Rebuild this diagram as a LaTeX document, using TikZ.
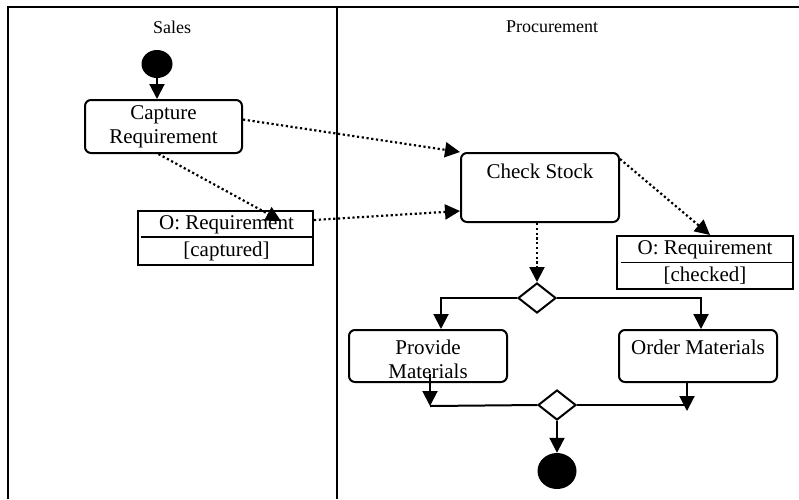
\documentclass[tikz,border=0pt]{standalone}
\usepackage{fontspec}
\setmainfont{Liberation Serif}
\usetikzlibrary{arrows.meta,shapes.geometric,calc}
\begin{document}
\begin{tikzpicture}[x=1pt,y=-1pt,
  every node/.style={font=\fontsize{21}{24}\selectfont},
  lane/.style={line width=2.2pt},
  act/.style={draw, line width=2pt, rounded corners=6pt, inner sep=0pt},
  obj/.style={draw, line width=2pt, inner sep=0pt},
  txt/.style={inner sep=0pt, align=center},
  lanetxt/.style={inner sep=0pt, font=\fontsize{18}{20}\selectfont},
  dia/.style={draw, diamond, line width=2pt, inner sep=0pt, minimum width=38pt, minimum height=30pt},
  blob/.style={ellipse, fill=black, inner sep=0pt},
  flow/.style={line width=2pt, -{Triangle[length=15pt,width=15pt]}},
  dflow/.style={line width=2.2pt, dash pattern=on 2.2pt off 2.6pt, -{Triangle[length=15pt,width=15pt]}},
  plain/.style={line width=2pt},
]
\useasboundingbox (0,0) rectangle (799,499);
\fill[white] (0,0) rectangle (799,499);
% swimlanes
\draw[lane] (8,499) -- (8,7) -- (799,7);
\draw[lane] (337,7) -- (337,499);
\node[lanetxt] (lsales) at (172,27) {Sales};
\node[lanetxt] (lproc) at (552,27) {Procurement};
% nodes
\node[blob, minimum width=31pt, minimum height=28pt] (start) at (157,64) {};
\node[act, minimum width=157pt, minimum height=53pt, align=center] (cap) at (163.5,126.5) {Capture\\Requirement};
\node[obj, minimum width=175pt, minimum height=54pt] (objc) at (225.5,238) {};
\draw[line width=1.6pt] ($(objc.west)+(4,-1)$) -- ($(objc.east)+(0,-1)$);
\node[txt] (objct) at (226.5,225) {O: Requirement};
\node[txt] (objcs) at (226.5,251) {[captured]};
\node[act, minimum width=158pt, minimum height=69pt] (check) at (540,187.5) {};
\node[txt] (checkt) at (540,171) {Check Stock};
\node[obj, minimum width=176pt, minimum height=53pt] (objk) at (705,262.5) {};
\draw[line width=1.6pt] ($(objk.west)+(5,0)$) -- (objk.east);
\node[txt] (objkt) at (705,250) {O: Requirement};
\node[txt] (objks) at (705,276) {[checked]};
\node[dia] (dec) at (537,298) {};
\node[act, minimum width=158pt, minimum height=52pt] (prov) at (428,356) {};
\node[txt] (provt) at (428,359) {Provide\\Materials};
\node[act, minimum width=158pt, minimum height=52pt] (order) at (698,356) {};
\node[txt] (ordert) at (698,347) {Order Materials};
\node[dia] (merge) at (557,405) {};
\node[blob, minimum width=39pt, minimum height=36pt] (final) at (557,471) {};
% connectors
\draw[flow] (start) -- (cap.north -| start);
\draw[dflow] (cap.5) -- (check.north west);
\draw[dflow] ($(cap.south)+(-5,0)$) -- ($(objc.north east)+(-33,11)$);
\draw[dflow] ($(objc.north east)+(0,10)$) -- ($(check.south west)+(0,-12)$);
\draw[dflow] ($(check.north east)+(0,7)$) -- ($(objk.north)+(5,0)$);
\draw[dflow] (dec.north |- check.south) -- (dec.north);
\draw[flow] (dec.west) -| ($(prov.north)+(13,0)$);
\draw[flow] (dec.east) -| ($(order.north)+(3,0)$);
\coordinate (pm) at ($(prov.south)+(2,23)$);
\coordinate (om) at ($(order.south)+(-11,28)$);
\draw[flow] ($(prov.south)+(2,-9)$) -- (pm);
\draw[plain] (pm) -- (merge.west);
\draw[flow] ($(order.south)+(-11,0)$) -- (om);
\draw[plain] (merge.east) -- (om |- merge.east);
\draw[flow] (merge.south) -- (final.north);
\end{tikzpicture}
\end{document}
